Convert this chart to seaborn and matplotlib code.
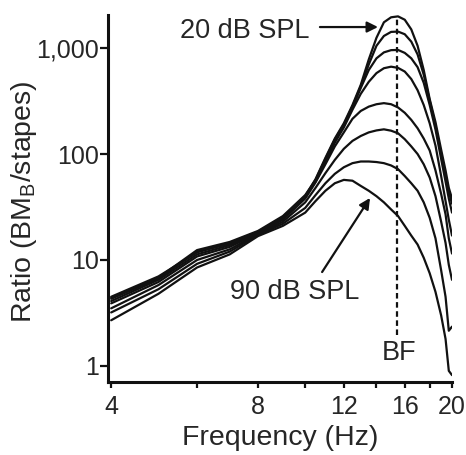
import numpy as np
import pandas as pd
import seaborn as sns
import matplotlib
matplotlib.use("Agg")
import matplotlib.pyplot as plt
from matplotlib.ticker import FixedLocator, FixedFormatter, NullFormatter, NullLocator

# ---------------- data ----------------
freq = [4, 5, 6, 7, 8, 9, 10, 10.5, 11, 11.5, 12, 12.5, 13, 13.5, 14, 14.5,
        15, 15.5, 16, 16.5, 17, 17.5, 18, 18.5, 19, 19.4, 19.7, 20]

spl_levels = ["20 dB", "30 dB", "40 dB", "50 dB", "60 dB", "70 dB", "80 dB", "90 dB"]

ratio_20 = [4.5, 7.0, 11.8, 14.5, 18.5, 25, 40, 58, 92, 140, 195, 290, 450, 780, 1250, 1750,
            1950, 1990, 1850, 1500, 1050, 620, 330, 200, 110, 70, 48, 38]
ratio_30 = [4.4, 6.8, 12.4, 14.8, 18.8, 26, 41, 57, 90, 137, 190, 282, 435, 700, 1050, 1300,
            1420, 1430, 1350, 1150, 870, 560, 320, 185, 100, 62, 44, 34]
ratio_40 = [4.3, 6.7, 12.0, 14.2, 18.3, 25.5, 40, 56, 88, 133, 185, 275, 420, 620, 800, 910,
            955, 960, 900, 800, 660, 470, 290, 170, 90, 55, 38, 28]
ratio_50 = [4.1, 6.5, 11.3, 13.8, 18.0, 24.5, 39, 55, 85, 128, 178, 262, 370, 480, 580, 645,
            667, 650, 600, 510, 400, 290, 195, 120, 62, 36, 24, 17]
ratio_60 = [3.9, 6.2, 10.8, 13.3, 17.8, 24, 38, 54, 80, 118, 160, 215, 255, 280, 295, 302,
            295, 275, 245, 210, 175, 140, 108, 70, 42, 27, 16, 11.5]
ratio_70 = [3.5, 5.8, 10.0, 12.6, 17.5, 23, 35, 48, 66, 88, 112, 133, 148, 160, 167, 171,
            166, 157, 138, 118, 100, 80, 60, 40, 23, 14.5, 9, 6.5]
ratio_80 = [3.2, 5.3, 9.2, 12.0, 17.2, 22, 31, 41, 53, 65, 75, 82, 85, 85, 84, 82,
            78, 72, 62, 53, 45, 35, 25, 16, 8, 4.5, 2.15, 2.35]
ratio_90 = [2.7, 4.8, 8.5, 11.3, 16.8, 21, 28, 36, 45, 53, 57, 56, 50, 45, 40, 35,
            30, 26, 21, 17, 14, 10.5, 7.5, 5, 3, 1.8, 0.9, 0.82]

all_ratios = [ratio_20, ratio_30, ratio_40, ratio_50, ratio_60, ratio_70, ratio_80, ratio_90]

bf_freq = 15.4
bf_low = 1.95

x_ticks = [4, 8, 12, 16, 20]
x_ticklabels = ["4", "8", "12", "16", "20"]
x_minor = [6, 10, 14, 18]
y_ticks = [1, 10, 100, 1000]
y_ticklabels = ["1", "10", "100", "1,000"]

# ---------------- build table ----------------
rows = []
for lvl, vals in zip(spl_levels, all_ratios):
    for f, v in zip(freq, vals):
        rows.append({"freq": f, "ratio": v, "level": lvl})
df = pd.DataFrame(rows)

# ---------------- style ----------------
sns.set_style("ticks")
plt.rcParams["font.family"] = ["Liberation Sans", "DejaVu Sans"]
plt.rcParams["mathtext.fontset"] = "custom"
plt.rcParams["mathtext.rm"] = "Liberation Sans"
plt.rcParams["mathtext.it"] = "Liberation Sans:italic"

ink = "#111111"
txt = "#262626"

fig = plt.figure(figsize=(4.66, 4.55), dpi=100)
ax = fig.add_axes([108 / 466, 1 - 382 / 455, 344 / 466, 367 / 455])

sns.lineplot(data=df, x="freq", y="ratio", hue="level", palette=[ink] * len(spl_levels),
             estimator=None, sort=False, legend=False, ax=ax, linewidth=1.6)

ax.set_xscale("log")
ax.set_yscale("log")
ax.set_xlim(3.94, 20.0)
ax.set_ylim(0.706, 2050)

ax.xaxis.set_major_locator(FixedLocator(x_ticks))
ax.xaxis.set_major_formatter(FixedFormatter(x_ticklabels))
ax.xaxis.set_minor_locator(FixedLocator(x_minor))
ax.xaxis.set_minor_formatter(NullFormatter())
ax.yaxis.set_major_locator(FixedLocator(y_ticks))
ax.yaxis.set_major_formatter(FixedFormatter(y_ticklabels))
ax.yaxis.set_minor_locator(NullLocator())

ax.tick_params(axis="both", which="both", direction="out", width=1.6, color=ink,
               labelsize=18, labelcolor=txt)
ax.tick_params(axis="x", which="both", length=4.5, pad=5)
ax.tick_params(axis="y", which="major", length=5.5, pad=1)

for s in ["top", "right"]:
    ax.spines[s].set_visible(False)
for s in ["left", "bottom"]:
    ax.spines[s].set_linewidth(2.2)
    ax.spines[s].set_color(ink)

ax.set_xlabel("Frequency (Hz)", fontsize=20.5, color=txt)
ax.set_ylabel(r"Ratio (BM$_{\mathrm{B}}$/stapes)", fontsize=20.5, color=txt)
ax.xaxis.set_label_coords(0.5, -0.117)
ax.yaxis.set_label_coords(-0.20, 0.49)

# BF dotted line
ax.plot([bf_freq, bf_freq], [bf_low, max(ratio_20)], color=ink, lw=1.6,
        ls=(0, (2.5, 1.6)))
ax.text(15.57, 1.33, "BF", fontsize=19.5, color=txt, ha="center", va="center")

# 20 dB SPL annotation
ax.text(7.53, 1447, "20 dB SPL", fontsize=19.5, color=txt, ha="center", va="center")
ax.annotate("", xy=(14.1, 1578), xytext=(10.72, 1578),
            arrowprops=dict(arrowstyle="-|>", color=ink, lw=1.6, mutation_scale=16,
                            shrinkA=0, shrinkB=0))

# 90 dB SPL annotation
ax.text(9.51, 5.0, "90 dB SPL", fontsize=19.5, color=txt, ha="center", va="center")
ax.annotate("", xy=(13.58, 38.5), xytext=(10.83, 7.7),
            arrowprops=dict(arrowstyle="-|>", color=ink, lw=1.6, mutation_scale=16,
                            shrinkA=0, shrinkB=0))

fig.savefig("out.png", dpi=100)
